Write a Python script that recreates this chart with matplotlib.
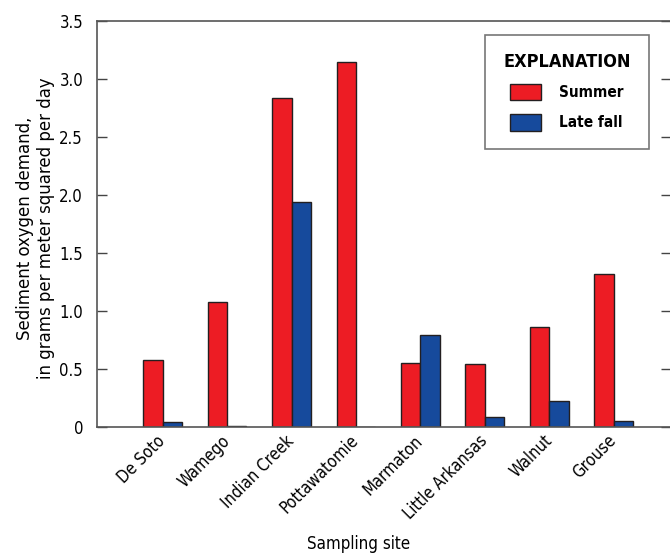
import numpy as np
import matplotlib.pyplot as plt
from matplotlib.patches import Patch

sites = ["De Soto", "Wamego", "Indian Creek", "Pottawatomie",
         "Marmaton", "Little Arkansas", "Walnut", "Grouse"]
summer = [0.58, 1.08, 2.83, 3.14, 0.55, 0.54, 0.86, 1.32]
late_fall = [0.04, 0.01, 1.94, 0.0, 0.79, 0.09, 0.22, 0.05]

plt.rcParams['font.family'] = ['DejaVu Sans']
plt.rcParams['font.stretch'] = 'condensed'
plt.rcParams['font.size'] = 12

red = '#ED1C24'
blue = '#164A9C'
w = 0.30

fig = plt.figure(figsize=(6.7, 5.55), dpi=100)
ax = fig.add_axes([97/670, 128/555, 574/670, 406.3/555])

x = np.arange(1, len(sites) + 1)
ax.bar(x - w/2, summer, w, color=red, edgecolor='#231F20', linewidth=1.0)
ax.bar(x + w/2, late_fall, w, color=blue, edgecolor='#231F20', linewidth=1.0)

ax.set_xlim(-0.02, 8.89)
ax.set_ylim(0, 3.5)
ax.set_yticks(np.arange(0, 3.51, 0.5))
ax.set_yticklabels(['0', '0.5', '1.0', '1.5', '2.0', '2.5', '3.0', '3.5'])
ax.tick_params(axis='y', direction='in', length=7, width=1, color='#444',
               pad=10, right=True)
ax.tick_params(axis='x', length=0, pad=8)
ax.set_xticks(x)
ax.set_xticklabels(sites, rotation=45, ha='right', va='center',
                   rotation_mode='anchor')

for s in ['left', 'top', 'bottom']:
    ax.spines[s].set_color('#555')
    ax.spines[s].set_linewidth(1.2)
ax.spines['right'].set_visible(False)

ax.set_xlabel('Sampling site', fontsize=12.2)
ax.xaxis.set_label_coords(0.455, -0.265)
ax.set_ylabel('Sediment oxygen demand,\nin grams per meter squared per day',
              fontsize=13.2, linespacing=1.2)
ax.yaxis.set_label_coords(-0.073, 0.49)

handles = [Patch(facecolor=red, edgecolor='#231F20', label='Summer'),
           Patch(facecolor=blue, edgecolor='#231F20', label='Late fall')]
leg = ax.legend(handles=handles, title='EXPLANATION', loc='upper right',
                bbox_to_anchor=(0.962, 0.9655), borderaxespad=0,
                frameon=True, fancybox=False, edgecolor='#555',
                handlelength=2.0, handleheight=1.3, handletextpad=1.2,
                borderpad=1.2, labelspacing=0.9,
                prop={'weight': 'bold', 'size': 11, 'stretch': 'condensed'},
                title_fontproperties={'weight': 'bold', 'size': 13,
                                      'stretch': 'condensed'})
leg.get_frame().set_linewidth(1.2)
leg._legend_box.sep = 9

fig.savefig('out.png', dpi=100)
